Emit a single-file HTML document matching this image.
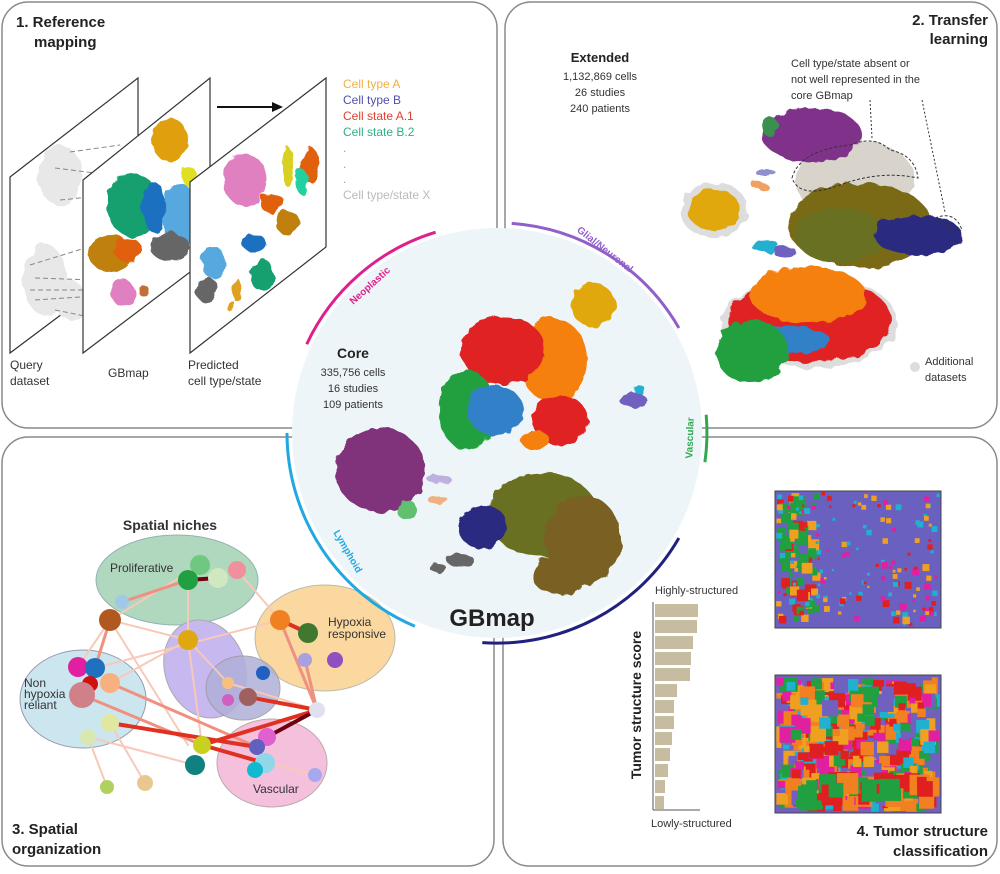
<!DOCTYPE html>
<html><head><meta charset="utf-8"><style>
html,body{margin:0;padding:0;background:#fff;}
svg text{font-family:"Liberation Sans",sans-serif;}
</style></head><body>
<svg width="1000" height="869" viewBox="0 0 1000 869" xmlns="http://www.w3.org/2000/svg">
<defs>
<filter id="rough"><feTurbulence type="fractalNoise" baseFrequency="0.08" numOctaves="2" result="n"/><feDisplacementMap in="SourceGraphic" in2="n" scale="9"/></filter>
</defs>
<g fill="none" stroke="#8a8a8a" stroke-width="1.5">
<rect x="2" y="2" width="495" height="426" rx="26"/>
<rect x="505" y="2" width="492" height="426" rx="26"/>
<rect x="2" y="437" width="492" height="429" rx="26"/>
<rect x="503" y="437" width="494" height="429" rx="26"/>
</g>

<text x="16" y="27" font-size="15" font-weight="bold" fill="#222">1. Reference</text>
<text x="34" y="47" font-size="15" font-weight="bold" fill="#222">mapping</text>
<polygon points="10,177 138,78 138,257 10,353" fill="#fff" stroke="#333" stroke-width="1.2"/>
<g filter="url(#rough)" fill="#e8e8e8">
<ellipse cx="60" cy="175" rx="22" ry="30"/><ellipse cx="45" cy="280" rx="22" ry="35"/><ellipse cx="70" cy="300" rx="15" ry="20"/>
</g>
<g stroke="#888" stroke-width="1" stroke-dasharray="5,3" fill="none">
<path d="M70 152 L120 145"/><path d="M55 168 L110 175"/><path d="M60 200 L100 196"/><path d="M30 265 L95 245"/><path d="M35 278 L95 280"/><path d="M30 290 L95 290"/><path d="M35 300 L95 296"/><path d="M55 310 L95 318"/>
</g>
<polygon points="83,180 210,78 210,257 83,353" fill="#fff" stroke="#333" stroke-width="1.2"/>
<g filter="url(#rough)">
<ellipse cx="170" cy="140" rx="18" ry="22" fill="#e0a010"/>
<ellipse cx="133" cy="205" rx="26" ry="32" fill="#14a070"/>
<ellipse cx="154" cy="207" rx="12" ry="25" fill="#1e70c0"/>
<ellipse cx="180" cy="217" rx="17" ry="34" fill="#58a8e0"/>
<ellipse cx="190" cy="177" rx="7" ry="10" fill="#e0e020"/>
<ellipse cx="170" cy="247" rx="20" ry="14" fill="#666"/>
<ellipse cx="110" cy="253" rx="22" ry="18" fill="#c08010"/>
<ellipse cx="128" cy="250" rx="14" ry="12" fill="#e06010"/>
<ellipse cx="123" cy="293" rx="12" ry="13" fill="#e080c0"/>
<ellipse cx="143" cy="290" rx="5" ry="6" fill="#c07030"/>
</g>
<polygon points="190,182 326,78 326,247 190,353" fill="#fff" stroke="#333" stroke-width="1.2"/>
<g filter="url(#rough)">
<ellipse cx="245" cy="180" rx="22" ry="26" fill="#e080c0"/>
<ellipse cx="288" cy="167" rx="6" ry="20" fill="#d8d020"/>
<ellipse cx="310" cy="165" rx="9" ry="18" fill="#e06010"/>
<ellipse cx="302" cy="182" rx="7" ry="12" fill="#20d0a0"/>
<ellipse cx="272" cy="203" rx="12" ry="10" fill="#e06010"/>
<ellipse cx="288" cy="223" rx="12" ry="12" fill="#c08010"/>
<ellipse cx="254" cy="243" rx="12" ry="9" fill="#1e70c0"/>
<ellipse cx="262" cy="275" rx="12" ry="16" fill="#14a070"/>
<ellipse cx="213" cy="262" rx="12" ry="16" fill="#58a8e0"/>
<ellipse cx="207" cy="290" rx="11" ry="13" fill="#666"/>
<ellipse cx="237" cy="290" rx="4" ry="12" fill="#e0a020"/>
<ellipse cx="232" cy="307" rx="4" ry="6" fill="#e0a020"/>
</g>
<line x1="217" y1="107" x2="276" y2="107" stroke="#111" stroke-width="2"/>
<polygon points="283,107 272,102 272,112" fill="#111"/>
<g font-size="12">
<text x="343" y="88" fill="#f0b040">Cell type A</text>
<text x="343" y="104" fill="#5050b0">Cell type B</text>
<text x="343" y="120" fill="#e04030">Cell state A.1</text>
<text x="343" y="136" fill="#30b080">Cell state B.2</text>
<text x="343" y="152" fill="#999">.</text><text x="343" y="168" fill="#999">.</text><text x="343" y="183" fill="#999">.</text>
<text x="343" y="199" fill="#bbb">Cell type/state X</text>
<text x="10" y="369" fill="#333">Query</text><text x="10" y="385" fill="#333">dataset</text>
<text x="108" y="377" fill="#333">GBmap</text>
<text x="188" y="369" fill="#333">Predicted</text><text x="188" y="385" fill="#333">cell type/state</text>
</g>

<text x="988" y="25" font-size="15" font-weight="bold" fill="#222" text-anchor="end">2. Transfer</text>
<text x="988" y="44" font-size="15" font-weight="bold" fill="#222" text-anchor="end">learning</text>
<text x="600" y="62" font-size="13" font-weight="bold" fill="#222" text-anchor="middle">Extended</text>
<g font-size="11" fill="#333" text-anchor="middle">
<text x="600" y="80">1,132,869 cells</text><text x="600" y="96">26  studies</text><text x="600" y="112">240 patients</text>
</g>
<g font-size="11" fill="#333">
<text x="791" y="67">Cell type/state absent or</text><text x="791" y="83">not well represented in the</text><text x="791" y="99">core GBmap</text>
<text x="925" y="365">Additional</text><text x="925" y="381">datasets</text>
</g>
<circle cx="915" cy="367" r="5" fill="#ddd"/>
<g filter="url(#rough)">
<ellipse cx="714" cy="210" rx="34" ry="28" fill="#ddd"/>
<ellipse cx="714" cy="210" rx="26" ry="21" fill="#e0a810"/>
<ellipse cx="855" cy="180" rx="60" ry="40" fill="#d8d4cc"/>
<ellipse cx="812" cy="135" rx="50" ry="27" fill="#80308a"/>
<ellipse cx="770" cy="127" rx="8" ry="10" fill="#3a9050"/>
<ellipse cx="860" cy="225" rx="72" ry="42" fill="#7a6a18"/>
<ellipse cx="840" cy="235" rx="45" ry="28" fill="#6b7020"/>
<ellipse cx="918" cy="235" rx="44" ry="20" fill="#2a2a80"/>
<ellipse cx="810" cy="322" rx="88" ry="46" fill="#ddd"/>
<ellipse cx="810" cy="320" rx="82" ry="42" fill="#e02020"/>
<ellipse cx="808" cy="295" rx="58" ry="28" fill="#f58010"/>
<ellipse cx="788" cy="340" rx="42" ry="14" fill="#3080c8"/>
<ellipse cx="752" cy="352" rx="36" ry="32" fill="#20a040"/>
<ellipse cx="765" cy="246" rx="14" ry="6" fill="#20b0d0"/>
<ellipse cx="785" cy="252" rx="12" ry="5" fill="#7060c0"/>
<ellipse cx="765" cy="172" rx="10" ry="4" fill="#9090d0"/>
<ellipse cx="760" cy="186" rx="8" ry="4" fill="#f0a060"/>
</g>
<path d="M792 178 Q800 150 850 145 Q875 135 890 150 Q915 155 918 178 Q880 170 840 185 Q800 200 792 178Z" fill="none" stroke="#333" stroke-width="1" stroke-dasharray="3,2"/>
<path d="M935 218 Q955 210 962 230 Q950 232 935 218Z" fill="none" stroke="#333" stroke-width="1" stroke-dasharray="3,2"/>
<line x1="870" y1="100" x2="872" y2="138" stroke="#333" stroke-dasharray="2,2"/>
<line x1="922" y1="100" x2="945" y2="212" stroke="#333" stroke-dasharray="2,2"/>

<text x="170" y="530" font-size="14" font-weight="bold" fill="#333" text-anchor="middle">Spatial niches</text>
<ellipse cx="177" cy="580" rx="81" ry="45" fill="#a8d4b8" stroke="#8aa" opacity="0.9"/>
<ellipse cx="325" cy="638" rx="70" ry="53" fill="#fad8a0" stroke="#bba"/>
<ellipse cx="205" cy="669" rx="40" ry="50" fill="#c8b8f0" stroke="#aaa" transform="rotate(-20 205 669)"/>
<ellipse cx="243" cy="688" rx="37" ry="32" fill="#b0b0d8" stroke="#999" opacity="0.85"/>
<ellipse cx="83" cy="699" rx="63" ry="49" fill="#cce6f0" stroke="#99a"/>
<ellipse cx="272" cy="763" rx="55" ry="44" fill="#f4c0dc" stroke="#baa"/>
<g stroke-linecap="round">
<g stroke="#f8c8b8" stroke-width="2">
<line x1="110" y1="620" x2="188" y2="745"/><line x1="110" y1="620" x2="188" y2="640"/><line x1="188" y1="580" x2="188" y2="640"/><line x1="237" y1="570" x2="280" y2="620"/><line x1="188" y1="640" x2="228" y2="683"/><line x1="95" y1="668" x2="280" y2="620"/><line x1="88" y1="737" x2="107" y2="787"/><line x1="110" y1="723" x2="145" y2="783"/><line x1="188" y1="640" x2="202" y2="745"/><line x1="110" y1="683" x2="188" y2="640"/><line x1="228" y1="683" x2="317" y2="710"/><line x1="202" y1="745" x2="315" y2="775"/><line x1="88" y1="737" x2="195" y2="765"/><line x1="110" y1="620" x2="78" y2="667"/><line x1="200" y1="565" x2="110" y2="620"/>
</g>
<g stroke="#f09080" stroke-width="3">
<line x1="122" y1="602" x2="188" y2="580"/><line x1="110" y1="620" x2="95" y2="668"/><line x1="82" y1="695" x2="202" y2="745"/><line x1="110" y1="683" x2="257" y2="747"/><line x1="280" y1="620" x2="317" y2="710"/><line x1="305" y1="660" x2="317" y2="710"/>
</g>
<g stroke="#e03020" stroke-width="4">
<line x1="110" y1="723" x2="257" y2="747"/><line x1="202" y1="745" x2="317" y2="710"/><line x1="248" y1="697" x2="317" y2="710"/><line x1="202" y1="745" x2="265" y2="763"/><line x1="280" y1="620" x2="308" y2="633"/><line x1="82" y1="695" x2="95" y2="668"/>
</g>
<g stroke="#700010" stroke-width="4"><line x1="267" y1="737" x2="317" y2="710"/><line x1="188" y1="580" x2="218" y2="578"/></g>
</g>
<g>
<circle cx="200" cy="565" r="10" fill="#70c880"/><circle cx="188" cy="580" r="10" fill="#20a040"/><circle cx="218" cy="578" r="10" fill="#d0e8c0"/><circle cx="237" cy="570" r="9" fill="#f0909c"/><circle cx="122" cy="602" r="7" fill="#a0c8e8"/>
<circle cx="110" cy="620" r="11" fill="#b05820"/><circle cx="188" cy="640" r="10" fill="#e0a810"/><circle cx="280" cy="620" r="10" fill="#f08020"/><circle cx="308" cy="633" r="10" fill="#407830"/><circle cx="305" cy="660" r="7" fill="#a8a0e0"/><circle cx="335" cy="660" r="8" fill="#9050c0"/>
<circle cx="78" cy="667" r="10" fill="#e020a0"/><circle cx="95" cy="668" r="10" fill="#2070c0"/><circle cx="90" cy="684" r="8" fill="#d01010"/><circle cx="110" cy="683" r="10" fill="#f8b080"/><circle cx="82" cy="695" r="13" fill="#d08088"/>
<circle cx="110" cy="723" r="9" fill="#e0e8a0"/><circle cx="88" cy="737" r="8" fill="#d8e8b0"/><circle cx="228" cy="683" r="6" fill="#f8c080"/><circle cx="263" cy="673" r="7" fill="#2060c0"/><circle cx="248" cy="697" r="9" fill="#a06060"/><circle cx="228" cy="700" r="6" fill="#d060c0"/>
<circle cx="317" cy="710" r="8" fill="#e0e0f0"/><circle cx="202" cy="745" r="9" fill="#c8d020"/><circle cx="195" cy="765" r="10" fill="#108080"/><circle cx="267" cy="737" r="9" fill="#e060d0"/><circle cx="257" cy="747" r="8" fill="#6060c0"/><circle cx="265" cy="763" r="10" fill="#90d8e8"/><circle cx="255" cy="770" r="8" fill="#10b8d0"/><circle cx="315" cy="775" r="7" fill="#a8a8f0"/>
<circle cx="107" cy="787" r="7" fill="#b0d060"/><circle cx="145" cy="783" r="8" fill="#e8c890"/>
</g>
<g font-size="12" fill="#333">
<text x="110" y="572">Proliferative</text>
<text x="328" y="626">Hypoxia</text><text x="328" y="638">responsive</text>
<text x="24" y="687">Non</text><text x="24" y="698">hypoxia</text><text x="24" y="709">reliant</text>
<text x="253" y="793">Vascular</text>
</g>
<text x="12" y="834" font-size="15" font-weight="bold" fill="#222">3. Spatial</text>
<text x="12" y="854" font-size="15" font-weight="bold" fill="#222">organization</text>

<rect x="775" y="491" width="166" height="137" fill="#6a60c0" stroke="#444"/>
<g id="t1"></g>
<rect x="775" y="675" width="166" height="138" fill="#7060c0" stroke="#444"/>
<g id="t2"></g>
<rect x="775" y="491" width="166" height="137" fill="none" stroke="#444"/>
<rect x="775" y="675" width="166" height="138" fill="none" stroke="#444"/>
<text x="655" y="594" font-size="11" fill="#333">Highly-structured</text>
<text x="651" y="827" font-size="11" fill="#333">Lowly-structured</text>
<line x1="653" y1="602" x2="653" y2="810" stroke="#555"/><line x1="653" y1="810" x2="700" y2="810" stroke="#555"/>
<g fill="#c8bca0" id="bars"></g>
<text transform="translate(641 705) rotate(-90)" font-size="14" font-weight="bold" fill="#222" text-anchor="middle">Tumor structure score</text>
<text x="988" y="836" font-size="15" font-weight="bold" fill="#222" text-anchor="end">4. Tumor structure</text>
<text x="988" y="856" font-size="15" font-weight="bold" fill="#222" text-anchor="end">classification</text>

<circle cx="497" cy="433" r="205" fill="#eef5f9"/>
<g fill="none" stroke-width="3">
<path d="M306.7 344.2 A210 210 0 0 1 435.6 232.2" stroke="#e0208a"/>
<path d="M511.7 223.4 A210 210 0 0 1 678.9 328" stroke="#9060c8"/>
<path d="M706.2 414.7 A210 210 0 0 1 704.9 462.2" stroke="#30a850"/>
<path d="M678.9 538 A210 210 0 0 1 482.3 642.6" stroke="#202080"/>
<path d="M414.9 626.3 A210 210 0 0 1 287 433" stroke="#20a8e0"/>
</g>
<g font-size="10" font-weight="bold">
<text transform="translate(372 288) rotate(-42)" fill="#e0208a" text-anchor="middle">Neoplastic</text>
<text transform="translate(603 252) rotate(38)" fill="#9060c8" text-anchor="middle">Glial/Neuronal</text>
<text transform="translate(693 438) rotate(-88)" fill="#30a850" text-anchor="middle">Vascular</text>
<text transform="translate(345 553) rotate(60)" fill="#20a8e0" text-anchor="middle">Lymphoid</text>
</g>
<text x="353" y="358" font-size="14" font-weight="bold" fill="#222" text-anchor="middle">Core</text>
<g font-size="11" fill="#333" text-anchor="middle">
<text x="353" y="376">335,756 cells</text><text x="353" y="392">16 studies</text><text x="353" y="408">109 patients</text>
</g>
<g filter="url(#rough)">
<ellipse cx="593" cy="305" rx="22" ry="22" fill="#e0a810"/>
<ellipse cx="380" cy="470" rx="45" ry="42" fill="#80307a"/>
<ellipse cx="407" cy="510" rx="10" ry="10" fill="#60c070"/>
<ellipse cx="553" cy="360" rx="34" ry="42" fill="#f58010"/>
<ellipse cx="503" cy="350" rx="42" ry="34" fill="#e02020"/>
<ellipse cx="467" cy="410" rx="28" ry="40" fill="#20a040"/>
<ellipse cx="495" cy="410" rx="28" ry="25" fill="#3080c8"/>
<ellipse cx="560" cy="420" rx="28" ry="25" fill="#e02020"/>
<ellipse cx="535" cy="440" rx="14" ry="10" fill="#f58010"/>
<ellipse cx="543" cy="515" rx="55" ry="42" fill="#6b7020"/>
<ellipse cx="583" cy="540" rx="38" ry="45" fill="#7a6020"/>
<ellipse cx="560" cy="575" rx="28" ry="20" fill="#7a6020"/>
<ellipse cx="483" cy="527" rx="25" ry="22" fill="#2a2a80"/>
<ellipse cx="460" cy="560" rx="14" ry="6" fill="#666"/>
<ellipse cx="438" cy="568" rx="8" ry="5" fill="#666"/>
<ellipse cx="633" cy="400" rx="14" ry="7" fill="#7060c0"/>
<ellipse cx="640" cy="390" rx="5" ry="5" fill="#20b0d0"/>
<ellipse cx="440" cy="480" rx="12" ry="5" fill="#c0b0e0"/>
<ellipse cx="438" cy="500" rx="10" ry="4" fill="#f0b080"/>
</g>
<text x="492" y="626" font-size="24" font-weight="bold" fill="#222" text-anchor="middle">GBmap</text>
</svg>
<script>
(function(){
var ns="http://www.w3.org/2000/svg";
function rnd(s){return function(){s=(s*9301+49297)%233280;return s/233280;};}
var r=rnd(7);
function tiles(id,x0,y0,w,h,cols,n,sz){
 var g=document.getElementById(id);
 for(var i=0;i<n;i++){var e=document.createElementNS(ns,"rect");
  var s=sz*(0.5+r());e.setAttribute("x",x0+r()*(w-s));e.setAttribute("y",y0+r()*(h-s));
  e.setAttribute("width",s);e.setAttribute("height",s);e.setAttribute("fill",cols[Math.floor(r()*cols.length)]);g.appendChild(e);}
}
tiles("t1",776,492,45,135,["#20a040","#20a040","#e02020","#f0a020"],90,8);
tiles("t1",776,492,164,135,["#20b0d0","#20b0d0","#e02020","#f0a020","#e020a0"],110,4);
tiles("t1",880,560,60,67,["#e02020","#f0a020","#e020a0"],30,5);
tiles("t2",776,676,164,136,["#e02020","#f08020","#f0a020","#20a040","#20b0d0","#e020a0","#7060c0","#f08020"],520,11);
tiles("t2",790,770,150,42,["#e02020","#e02020","#f08020","#20a040"],50,15);
var w=[43,42,38,36,35,22,19,19,17,15,13,10,9],b=document.getElementById("bars");
for(var i=0;i<13;i++){var e=document.createElementNS(ns,"rect");e.setAttribute("x",655);e.setAttribute("y",604+i*16);e.setAttribute("width",w[i]);e.setAttribute("height",13);b.appendChild(e);}
})();
</script>
</body></html>
